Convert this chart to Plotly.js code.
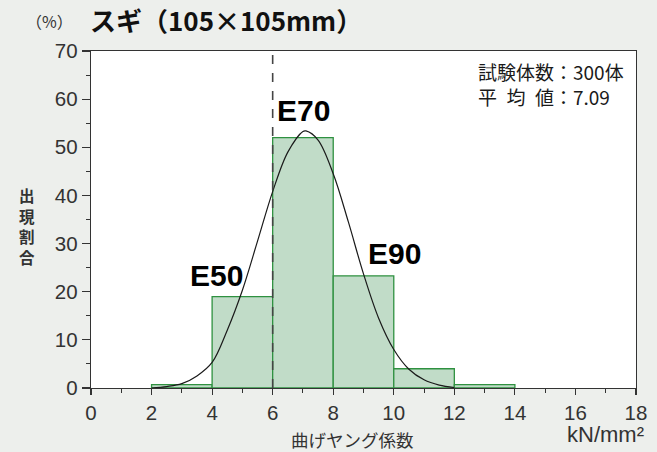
<!DOCTYPE html>
<html>
<head>
<meta charset="utf-8">
<script src="https://cdn.plot.ly/plotly-3.0.1.min.js"></script>
<style>
  html, body { margin: 0; padding: 0; background: #edefec; }
  #chart { width: 657px; height: 452px; }
</style>
</head>
<body>
<div id="chart"></div>
<script>
// Histogram of bending Young's modulus (kN/mm²), bin starts and share in %
const binStarts = [2, 4, 6, 8, 10, 12];
const binShare = [0.7, 19.0, 52.0, 23.3, 4.0, 0.7];
const binWidth = 2;

// Fitted distribution curve, read point by point
const curveX = [2.0, 2.5, 3.0, 3.5, 4.0, 4.5, 5.0, 5.5, 6.0, 6.5, 7.0, 7.1, 7.5, 8.0, 8.5, 9.0, 9.5, 10.0, 10.5, 11.0, 11.5, 12.0];
const curveY = [0.0, 0.3, 0.9, 2.5, 5.3, 12.0, 20.3, 30.5, 40.8, 49.0, 53.3, 53.4, 51.5, 44.5, 34.5, 23.7, 14.5, 8.0, 3.9, 1.7, 0.6, 0.1];

// Grade labels and their positions
const gradeLabels = ['E50', 'E70', 'E90'];
const gradeX = [4.14, 7.03, 10.04];
const gradeY = [23.3, 57.7, 27.9];

// Vertical axis title, one character per row
const yTitleChars = ['出', '現', '割', '合'];

const xTicks = [0, 2, 4, 6, 8, 10, 12, 14, 16, 18];
const yTicks = [0, 10, 20, 30, 40, 50, 60, 70];

const jp = '"Noto Sans CJK JP", "Noto Sans", sans-serif';
const num = '"Liberation Sans", Arial, sans-serif';

const traces = [
  {
    type: 'bar',
    x: binStarts,
    y: binShare,
    width: binStarts.map(() => binWidth),
    offset: 0,
    marker: { color: '#c1dcc8', line: { color: '#2f9140', width: 1.3 } },
    hoverinfo: 'skip'
  },
  {
    type: 'scatter',
    mode: 'lines',
    x: curveX,
    y: curveY,
    line: { color: '#1a1a1a', width: 1.2, shape: 'spline', smoothing: 1 },
    hoverinfo: 'skip'
  }
];

const annotations = gradeLabels.map((t, i) => ({
  x: gradeX[i], y: gradeY[i], xref: 'x', yref: 'y',
  text: '<b>' + t + '</b>', showarrow: false,
  font: { family: num, size: 30, color: '#000' }
}));

// stacked characters: 20.5 px apart, centred around y ≈ 216 px
yTitleChars.forEach((c, i) => {
  annotations.push({
    xref: 'paper', yref: 'paper', x: -0.117, y: 0.572 - i * 0.0608,
    xanchor: 'center', yanchor: 'middle', showarrow: false,
    text: '<b>' + c + '</b>', font: { family: jp, size: 15.5, color: '#333' }
  });
});

annotations.push(
  { xref: 'paper', yref: 'paper', x: 0.706, y: 0.938, xanchor: 'left', yanchor: 'middle',
    text: '試験体数：300体', showarrow: false, font: { family: jp, size: 19, color: '#1a1a1a' } },
  { xref: 'paper', yref: 'paper', x: 0.706, y: 0.864, xanchor: 'left', yanchor: 'middle',
    text: '平\u2002均\u2002値：7.09', showarrow: false, font: { family: jp, size: 19, color: '#1a1a1a' } },
  { xref: 'paper', yref: 'paper', x: 0.479, y: -0.152, xanchor: 'center', yanchor: 'middle',
    text: '曲げヤング係数', showarrow: false, font: { family: jp, size: 17.5, color: '#333' } },
  { xref: 'paper', yref: 'paper', x: 1.018, y: -0.137, xanchor: 'right', yanchor: 'middle',
    text: 'kN/mm²', showarrow: false, font: { family: num, size: 22, color: '#333' } },
  { xref: 'paper', yref: 'paper', x: -0.029, y: 1.088, xanchor: 'right', yanchor: 'middle',
    text: '（%）', showarrow: false, font: { family: jp, size: 16, color: '#333' } }
);

const layout = {
  width: 657,
  height: 452,
  margin: { l: 91, r: 21, t: 51, b: 64 },
  paper_bgcolor: '#edefec',
  plot_bgcolor: '#ffffff',
  showlegend: false,
  bargap: 0,
  title: {
    text: '<b>スギ（105×105mm）</b>',
    x: 0.137, xanchor: 'left', xref: 'container',
    y: 0.951, yanchor: 'middle', yref: 'container',
    font: { family: jp, size: 26, color: '#111' }
  },
  xaxis: {
    range: [0, 18],
    tickvals: xTicks,
    ticks: 'outside', ticklen: 6, tickwidth: 1.2, tickcolor: '#333',
    minor: { dtick: 1, ticks: 'outside', ticklen: 4, tickcolor: '#333', tickwidth: 1 },
    showline: true, linecolor: '#333', linewidth: 1.3, mirror: true,
    showgrid: false, zeroline: false,
    tickfont: { family: num, size: 20.5, color: '#333' }
  },
  yaxis: {
    range: [0, 70],
    tickvals: yTicks,
    ticks: 'outside', ticklen: 8, tickwidth: 1.2, tickcolor: '#333',
    minor: { dtick: 5, ticks: 'outside', ticklen: 4, tickcolor: '#333', tickwidth: 1 },
    showline: true, linecolor: '#333', linewidth: 1.3, mirror: true,
    showgrid: false, zeroline: false,
    tickfont: { family: num, size: 20.5, color: '#333' }
  },
  shapes: [
    { type: 'line', xref: 'x', yref: 'y', x0: 6, x1: 6, y0: 0, y1: 70, layer: 'above',
      line: { color: '#444', width: 1.6, dash: 'dash' } }
  ],
  annotations: annotations
};

Plotly.newPlot('chart', traces, layout, { displayModeBar: false, staticPlot: true });
</script>
</body>
</html>
